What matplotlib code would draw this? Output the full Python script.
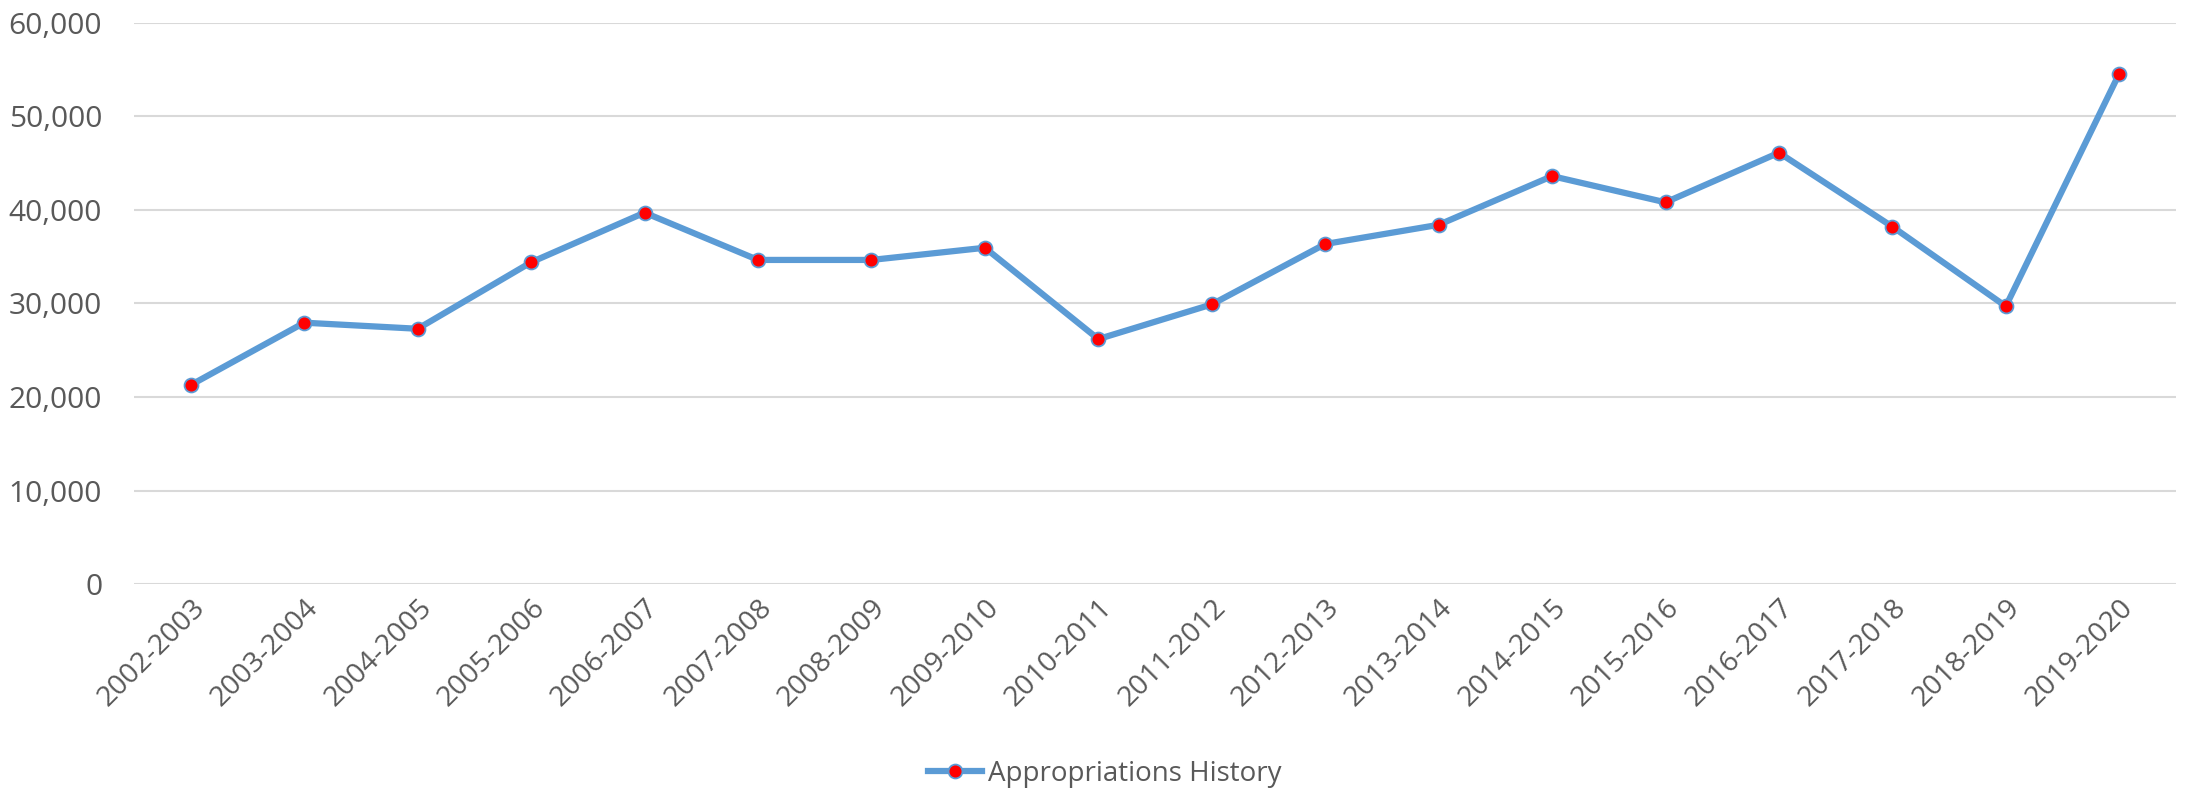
import matplotlib
matplotlib.use("Agg")
from matplotlib import pyplot as plt
from matplotlib.ticker import FuncFormatter

years = ['2002-2003', '2003-2004', '2004-2005', '2005-2006', '2006-2007',
         '2007-2008', '2008-2009', '2009-2010', '2010-2011', '2011-2012',
         '2012-2013', '2013-2014', '2014-2015', '2015-2016', '2016-2017',
         '2017-2018', '2018-2019', '2019-2020']
appropriations = [21300, 27950, 27300, 34400, 39700, 34650, 34650, 35950, 26200,
                  29900, 36350, 38400, 43600, 40800, 46100, 38200, 29700, 54550]
yticks = [0, 10000, 20000, 30000, 40000, 50000, 60000]

plt.rcParams['font.family'] = ['Open Sans', 'DejaVu Sans']

fig = plt.figure(figsize=(21.88, 7.93), dpi=100)
ax = fig.add_axes([0.0613, 0.263, 0.9332, 0.7086])

x = list(range(len(years)))
ax.plot(x, appropriations, color='#5B9BD5', linewidth=4.5, marker='o',
        markersize=10, markerfacecolor='red', markeredgecolor='#5B9BD5',
        markeredgewidth=1.3, label='Appropriations History', zorder=3)

ax.set_xlim(-0.5, 17.5)
ax.set_ylim(0, 60000)
ax.set_yticks(yticks)
ax.yaxis.set_major_formatter(FuncFormatter(lambda v, p: '{:,}'.format(int(v))))
ax.set_xticks(x)
ax.set_xticklabels(years, rotation=45, ha='right', rotation_mode='anchor')

ax.grid(True, axis='y', color='#D9D9D9', linewidth=1.5)
ax.set_axisbelow(True)
for s in ax.spines.values():
    s.set_visible(False)
ax.tick_params(axis='both', length=0, labelcolor='#595959')
ax.tick_params(axis='y', pad=23, labelsize=21.5)
ax.tick_params(axis='x', pad=7, labelsize=20.5)

leg = fig.legend(loc='center', bbox_to_anchor=(0.505, 0.024), frameon=False,
                 fontsize=20, handlelength=1.95, handletextpad=0.2)
for t in leg.get_texts():
    t.set_color('#595959')

fig.savefig('out.png', dpi=100)
